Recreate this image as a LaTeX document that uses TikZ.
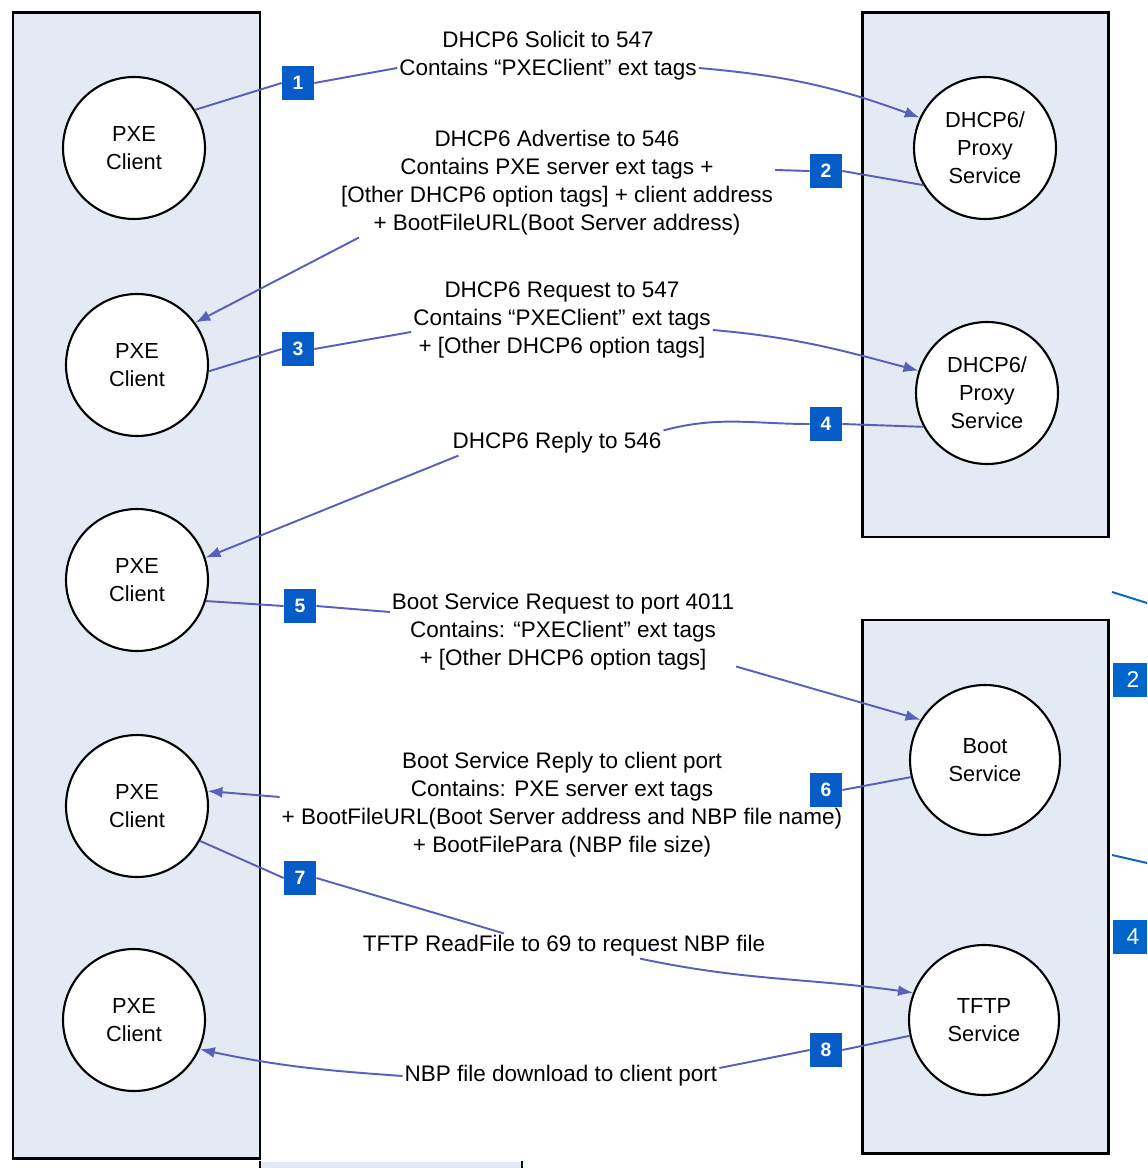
\documentclass[tikz,border=0pt]{standalone}
\usepackage{fontspec}
\setmainfont{Liberation Sans}
\usetikzlibrary{positioning, arrows.meta, calc}

\definecolor{panelfill}{RGB}{228,234,244}
\definecolor{msgline}{RGB}{88,96,186}
\definecolor{badgeblue}{RGB}{8,92,200}
\definecolor{edgeblue}{RGB}{0,102,204}

\begin{document}
\begin{tikzpicture}[x=0.02cm, y=-0.02cm, >={Latex[length=3mm,width=2.2mm]},
        panel/.style={draw=black, line width=1.7pt, fill=panelfill},
        agent/.style={circle, draw, line width=1.2pt, fill=white, minimum size=2.84cm, inner sep=0pt, align=center, font=\fontsize{12.4}{16}\selectfont},
        badge/.style={fill=badgeblue, text=white, font=\bfseries\fontsize{11}{12}\selectfont, minimum width=0.64cm, minimum height=0.68cm, inner sep=0pt},
        msg/.style={align=center, inner sep=1pt, font=\fontsize{12.8}{15.9}\selectfont},
        flow/.style={draw=msgline, line width=1.1pt}]
        \fill[white] (0,0) rectangle (1147,1168);
        \useasboundingbox (0,0) rectangle (1147,1168);

        % the three lanes
        \draw[panel] (13,13) rectangle (260,1158);
        \draw[panel] (862,13) rectangle (1108,537);
        \draw[panel] (862,620) rectangle (1108,1153);

        % clients
        \node[agent] (c1) at (134,148) {PXE\\Client};
        \node[agent] (c2) at (137,365) {PXE\\Client};
        \node[agent] (c3) at (137,580) {PXE\\Client};
        \node[agent] (c4) at (137,806) {PXE\\Client};
        \node[agent] (c5) at (134,1020) {PXE\\Client};

        % servers
        \node[agent] (s1) at (985,148) {DHCP6/\\Proxy\\Service};
        \node[agent] (s2) at (987,393) {DHCP6/\\Proxy\\Service};
        \node[agent, minimum size=3cm] (s3) at (985,760) {Boot\\Service};
        \node[agent, minimum size=3cm] (s4) at (984,1020) {TFTP\\Service};

        % messages
        \node[msg] (m1) at (548,56) {DHCP6 Solicit to 547\\Contains “PXEClient” ext tags};
        \node[msg] (m2) at (557,183) {DHCP6 Advertise to 546\\Contains PXE server ext tags +\\{}[Other DHCP6 option tags] + client address\\+ BootFileURL(Boot Server address)};
        \node[msg] (m3) at (562,320) {DHCP6 Request to 547\\Contains “PXEClient” ext tags\\+ [Other DHCP6 option tags]};
        \node[msg] (m4) at (557,443) {DHCP6 Reply to 546};
        \node[msg] (m5) at (563,632) {Boot Service Request to port 4011\\Contains: “PXEClient” ext tags\\+ [Other DHCP6 option tags]};
        \node[msg] (m6) at (562,805) {Boot Service Reply to client port\\Contains: PXE server ext tags\\+ BootFileURL(Boot Server address and NBP file name)\\+ BootFilePara (NBP file size)};
        \node[msg] (m7) at (564,946) {TFTP ReadFile to 69 to request NBP file};
        \node[msg] (m8) at (561,1076) {NBP file download to client port};

        % step numbers
        \node[badge] (b1) at (298,83) {1};
        \node[badge] (b2) at (826,171) {2};
        \node[badge] (b3) at (298,349) {3};
        \node[badge] (b4) at (826,424) {4};
        \node[badge] (b5) at (300,606) {5};
        \node[badge] (b6) at (826,790) {6};
        \node[badge] (b7) at (300,878) {7};
        \node[badge] (b8) at (826,1050) {8};

        % 1
        \draw[flow] (c1.32) -- (b1.west);
        \draw[flow] (b1.east) -- ($(m1.west)+(0,12)$);
        \draw[flow, ->] ($(m1.east)+(0,12)$) to[out=-5, in=160] (s1.155);
        % 2
        \draw[flow] (s1.211) -- (b2.east);
        \draw[flow] (b2.west) -- ($(m2.east)+(0,-13)$);
        \draw[flow, ->] ($(m2.south west)+(20,0)$) -- (c2.36);
        % 3
        \draw[flow] (c2.-5) -- (b3.west);
        \draw[flow] (b3.east) -- ($(m3.west)+(0,12)$);
        \draw[flow, ->] ($(m3.east)+(0,10)$) to[out=-5, in=165] (s2.162);
        % 4
        \draw[flow] (s2.208) -- (b4.east);
        \draw[flow] (b4.west) to[out=180, in=15] (m4.north east);
        \draw[flow, ->] ($(m4.south west)+(8,0)$) -- (c3.18);
        % 5
        \draw[flow] (c3.-17) -- (b5.west);
        \draw[flow] (b5.east) -- ($(m5.west)+(0,-20)$);
        \draw[flow, ->] ($(m5.south east)+(0,-6)$) -- (s3.148);
        % 6
        \draw[flow] (s3.193) -- (b6.east);
        \draw[flow, ->] ($(m6.west)+(0,-8)$) -- (c4.12);
        % 7
        \draw[flow] (c4.-29) -- (b7.west);
        \draw[flow] (b7.east) -- ($(m7.north)+(-60,0)$);
        \draw[flow, ->] ($(m7.south)+(76,0)$) to[out=-12, in=172] (s4.159);
        % 8
        \draw[flow] (s4.192) -- (b8.east);
        \draw[flow] (b8.west) -- ($(m8.east)+(0,-8)$);
        \draw[flow, ->] (m8.west) to[out=176, in=-12] (c5.-24);

        % cut-off bits of the next figure
        \draw[edgeblue, line width=1.1pt] (1112,592) -- (1147,603);
        \draw[edgeblue, line width=1.1pt] (1112,855) -- (1147,863);
        \fill[edgeblue] (1113,663) rectangle (1147,697);
        \fill[edgeblue] (1113,920) rectangle (1147,954);
        \node[text=white, font=\fontsize{13}{14}\selectfont] (e2) at (1133,680) {2};
        \node[text=white, font=\fontsize{13}{14}\selectfont] (e4) at (1133,937) {4};
        \fill[panelfill] (261,1162) rectangle (522,1168);
        \draw[line width=1.2pt] (260,1161) -- (260,1168) (522,1161) -- (522,1168);
\end{tikzpicture}
\end{document}
